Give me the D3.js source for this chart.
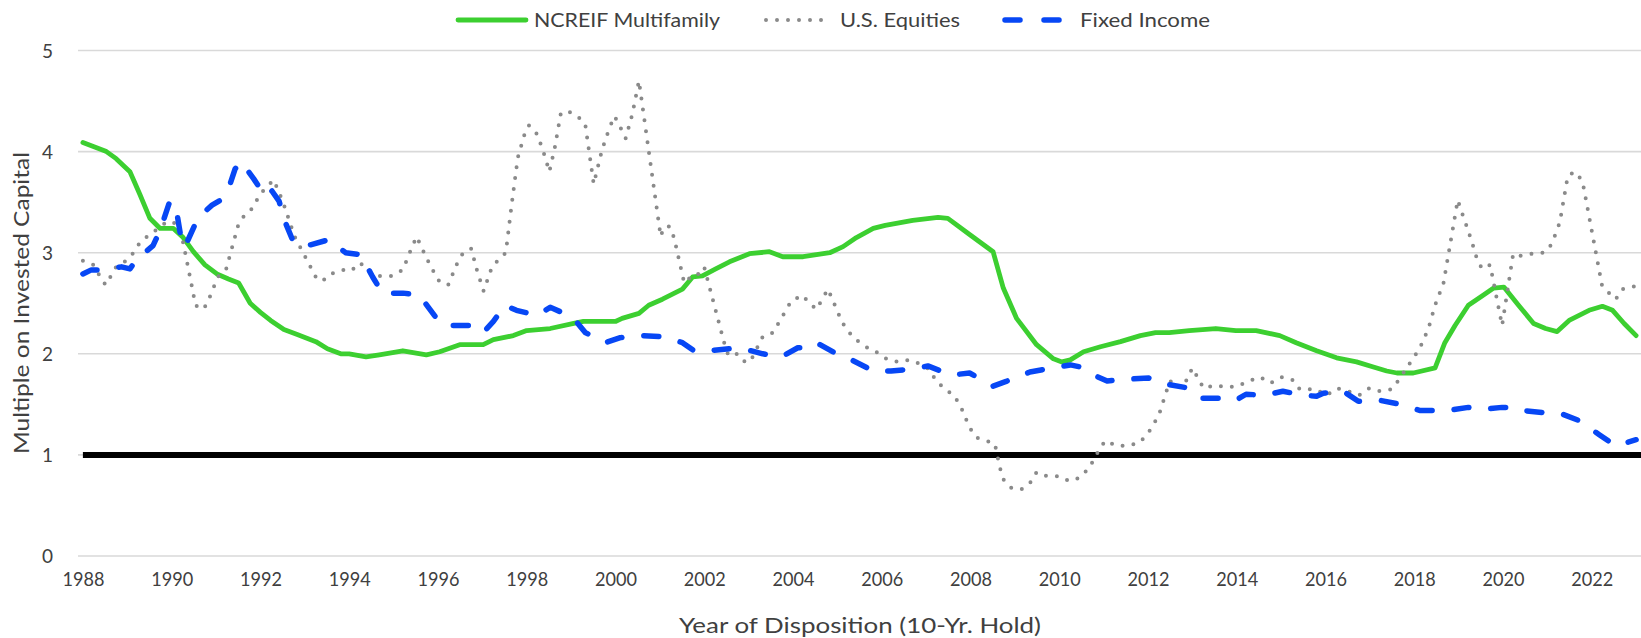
<!DOCTYPE html>
<html>
<head>
<meta charset="utf-8">
<script src="https://cdn.jsdelivr.net/npm/d3@7/dist/d3.min.js"></script>
<style>
  html, body { margin: 0; padding: 0; background: #ffffff; }
  svg { display: block; font-family: Lato, "Open Sans", sans-serif; }
</style>
</head>
<body>
<svg id="chart" width="1641" height="638"></svg>
<script>
// ---------------- data ----------------
const seriesNames = ["NCREIF Multifamily", "U.S. Equities", "Fixed Income"];
const tickYears = [1988,1990,1992,1994,1996,1998,2000,2002,2004,2006,2008,2010,2012,2014,2016,2018,2020,2022];
const yTicks = [0,1,2,3,4,5];
const xTitle = "Year of Disposition (10-Yr. Hold)";
const yTitle = "Multiple on Invested Capital";
const breakEven = 1;

// [year, multiple]
const ncreifMultifamily = [
 [1988.0,4.09],[1988.53,4.00],[1988.75,3.93],[1989.06,3.80],[1989.28,3.58],[1989.51,3.34],[1989.74,3.24],
 [1990.04,3.24],[1990.26,3.15],[1990.49,3.01],[1990.75,2.88],[1991.02,2.79],[1991.28,2.74],[1991.51,2.70],
 [1991.77,2.50],[1992.0,2.41],[1992.23,2.33],[1992.53,2.24],[1992.83,2.19],[1993.25,2.12],[1993.51,2.05],
 [1993.81,2.00],[1994.0,2.00],[1994.38,1.97],[1994.68,1.99],[1995.21,2.03],[1995.74,1.99],[1996.04,2.02],
 [1996.49,2.09],[1997.02,2.09],[1997.25,2.14],[1997.70,2.18],[1998.0,2.23],[1998.53,2.25],[1999.06,2.30],
 [1999.28,2.32],[2000.0,2.32],[2000.15,2.35],[2000.53,2.40],[2000.75,2.48],[2001.06,2.54],[2001.51,2.64],
 [2001.74,2.76],[2001.96,2.77],[2002.26,2.84],[2002.57,2.91],[2003.02,2.99],[2003.47,3.01],[2003.77,2.96],
 [2004.23,2.96],[2004.53,2.98],[2004.83,3.00],[2005.13,3.06],[2005.43,3.15],[2005.81,3.24],[2006.08,3.27],
 [2006.70,3.32],[2007.27,3.35],[2007.49,3.34],[2007.98,3.18],[2008.51,3.01],[2008.74,2.65],[2009.04,2.35],
 [2009.49,2.09],[2009.87,1.95],[2010.06,1.92],[2010.25,1.94],[2010.55,2.02],[2010.93,2.07],[2011.38,2.12],
 [2011.83,2.18],[2012.17,2.21],[2012.48,2.21],[2012.93,2.23],[2013.53,2.25],[2013.98,2.23],[2014.44,2.23],
 [2014.97,2.18],[2015.34,2.11],[2015.80,2.03],[2016.25,1.96],[2016.70,1.92],[2017.08,1.87],[2017.38,1.83],
 [2017.61,1.81],[2017.98,1.81],[2018.47,1.86],[2018.69,2.11],[2018.92,2.28],[2019.22,2.48],[2019.52,2.57],
 [2019.79,2.65],[2020.02,2.66],[2020.35,2.48],[2020.69,2.30],[2020.96,2.25],[2021.22,2.22],[2021.49,2.33],
 [2021.94,2.43],[2022.24,2.47],[2022.47,2.43],[2022.73,2.30],[2023.0,2.18]
];

const usEquities = [
 [1988.0,2.92],[1988.23,2.88],[1988.38,2.77],[1988.51,2.68],[1988.62,2.76],[1988.75,2.86],[1988.94,2.91],
 [1989.12,2.99],[1989.27,3.09],[1989.47,3.17],[1989.70,3.24],[1989.90,3.31],[1990.10,3.29],[1990.26,3.10],
 [1990.49,2.59],[1990.53,2.48],[1990.72,2.44],[1990.83,2.53],[1991.04,2.76],[1991.23,2.84],[1991.51,3.29],
 [1991.66,3.38],[1991.85,3.45],[1991.96,3.56],[1992.14,3.65],[1992.30,3.72],[1992.51,3.50],[1992.77,3.16],
 [1993.02,2.95],[1993.27,2.74],[1993.40,2.72],[1993.58,2.79],[1993.85,2.83],[1994.04,2.82],[1994.24,2.90],
 [1994.45,2.82],[1994.68,2.77],[1994.97,2.77],[1995.21,2.83],[1995.40,3.04],[1995.52,3.16],[1995.75,2.94],
 [1996.0,2.73],[1996.23,2.68],[1996.43,2.89],[1996.57,3.00],[1996.75,3.04],[1996.89,2.81],[1997.03,2.62],
 [1997.21,2.85],[1997.36,2.93],[1997.53,3.00],[1997.66,3.47],[1997.80,3.94],[1997.95,4.17],[1998.05,4.26],
 [1998.24,4.17],[1998.42,3.94],[1998.51,3.80],[1998.63,4.03],[1998.77,4.38],[1998.93,4.40],[1999.15,4.35],
 [1999.32,4.27],[1999.51,3.68],[1999.70,4.02],[1999.87,4.24],[1999.98,4.35],[2000.11,4.24],[2000.23,4.13],
 [2000.38,4.37],[2000.53,4.70],[2001.02,3.16],[2001.09,3.25],[2001.22,3.26],[2001.32,3.15],[2001.55,2.70],
 [2001.70,2.76],[2001.81,2.76],[2002.0,2.86],[2002.48,2.06],[2002.55,1.98],[2002.75,2.00],[2002.94,1.91],
 [2003.08,1.96],[2003.32,2.17],[2003.55,2.21],[2003.96,2.52],[2004.21,2.58],[2004.38,2.50],[2004.53,2.44],
 [2004.79,2.64],[2005.11,2.31],[2005.27,2.21],[2005.45,2.13],[2005.68,2.06],[2005.91,2.01],[2006.11,1.95],
 [2006.36,1.92],[2006.61,1.94],[2006.87,1.90],[2007.06,1.85],[2007.22,1.74],[2007.40,1.66],[2007.62,1.59],
 [2007.77,1.49],[2007.98,1.27],[2008.14,1.17],[2008.36,1.14],[2008.55,1.11],[2008.66,0.88],[2008.74,0.76],
 [2008.93,0.67],[2009.15,0.66],[2009.34,0.72],[2009.49,0.83],[2009.72,0.79],[2009.98,0.79],[2010.23,0.74],
 [2010.44,0.77],[2010.63,0.85],[2010.78,0.95],[2010.91,1.06],[2011.04,1.14],[2011.29,1.09],[2011.55,1.09],
 [2011.80,1.12],[2011.98,1.20],[2012.11,1.29],[2012.25,1.40],[2012.49,1.73],[2012.63,1.70],[2012.78,1.66],
 [2013.0,1.86],[2013.14,1.75],[2013.25,1.66],[2013.51,1.69],[2013.77,1.67],[2014.02,1.68],[2014.27,1.73],
 [2014.53,1.77],[2014.76,1.71],[2015.02,1.77],[2015.27,1.74],[2015.42,1.65],[2015.78,1.65],[2016.02,1.59],
 [2016.26,1.66],[2016.51,1.63],[2016.76,1.59],[2016.99,1.66],[2017.23,1.63],[2017.49,1.65],[2017.65,1.74],
 [2017.80,1.84],[2017.95,1.94],[2018.12,2.05],[2018.32,2.25],[2018.47,2.48],[2018.66,2.70],[2018.98,3.52],
 [2019.11,3.35],[2019.20,3.24],[2019.36,3.02],[2019.43,2.91],[2019.54,2.84],[2019.71,2.88],[2019.98,2.28],
 [2020.23,2.99],[2020.39,2.97],[2020.66,2.99],[2020.92,3.00],[2021.07,3.07],[2021.18,3.18],[2021.28,3.30],
 [2021.46,3.76],[2021.62,3.80],[2021.79,3.71],[2022.23,2.68],[2022.45,2.57],[2022.54,2.54],[2022.69,2.64],
 [2022.85,2.66],[2023.0,2.67]
];

const fixedIncome = [
 [1988.0,2.79],[1988.19,2.83],[1988.38,2.83],[1988.87,2.86],[1989.06,2.84],[1989.21,2.93],[1989.58,3.07],
 [1989.74,3.22],[1989.96,3.51],[1990.10,3.44],[1990.19,3.20],[1990.30,3.06],[1990.60,3.35],[1990.91,3.47],
 [1991.10,3.52],[1991.28,3.63],[1991.43,3.83],[1991.58,3.90],[1991.70,3.82],[1991.85,3.73],[1992.11,3.56],
 [1992.26,3.61],[1992.42,3.51],[1992.57,3.29],[1992.74,3.11],[1992.98,3.06],[1993.55,3.13],[1993.92,3.00],
 [1994.26,2.98],[1994.53,2.76],[1994.75,2.60],[1995.21,2.60],[1995.58,2.58],[1995.92,2.38],[1996.04,2.31],
 [1996.23,2.28],[1996.72,2.28],[1997.02,2.21],[1997.25,2.32],[1997.51,2.48],[1997.77,2.43],[1998.23,2.38],
 [1998.53,2.46],[1998.79,2.41],[1999.06,2.35],[1999.32,2.21],[1999.77,2.11],[2000.11,2.16],[2000.60,2.18],
 [2001.06,2.17],[2001.51,2.11],[2001.77,2.03],[2001.92,2.02],[2002.34,2.04],[2002.79,2.06],[2003.32,2.00],
 [2003.74,1.97],[2004.11,2.06],[2004.30,2.06],[2004.53,2.11],[2004.98,2.00],[2005.32,1.94],[2005.81,1.83],
 [2006.21,1.83],[2006.70,1.85],[2007.04,1.88],[2007.57,1.79],[2007.98,1.81],[2008.51,1.68],[2008.82,1.73],
 [2009.34,1.82],[2009.72,1.85],[2010.25,1.89],[2010.48,1.87],[2010.63,1.82],[2011.08,1.73],[2011.53,1.75],
 [2012.02,1.76],[2012.40,1.70],[2012.93,1.66],[2013.23,1.56],[2013.76,1.56],[2013.98,1.54],[2014.21,1.60],
 [2014.63,1.59],[2015.04,1.63],[2015.49,1.59],[2015.80,1.58],[2015.95,1.61],[2016.40,1.63],[2016.74,1.53],
 [2017.23,1.54],[2017.68,1.50],[2018.12,1.44],[2018.54,1.44],[2018.77,1.44],[2019.22,1.47],[2019.49,1.45],
 [2019.98,1.47],[2020.28,1.47],[2020.43,1.44],[2020.88,1.42],[2021.30,1.41],[2021.71,1.34],[2022.17,1.20],
 [2022.54,1.09],[2022.77,1.12],[2023.0,1.15]
];

// ---------------- drawing ----------------
const svg = d3.select("#chart");
const W = 1641, H = 638;
const x = d3.scaleLinear().domain([1988, 2023.11]).range([82.9, 1641]);
const y = d3.scaleLinear().domain([0, 5]).range([556, 50.5]);
const gridLeft = 78;

// gridlines
svg.append("g").selectAll("line").data(yTicks).join("line")
  .attr("x1", gridLeft).attr("x2", W)
  .attr("y1", d => y(d)).attr("y2", d => y(d))
  .attr("stroke", "#d9d9d9").attr("stroke-width", 1.6);

// y axis labels
const yAxis = svg.append("g").attr("transform", "translate(53,0)")
  .call(d3.axisLeft(y).tickValues(yTicks).tickFormat(d3.format("d")).tickSize(0).tickPadding(0));
yAxis.select(".domain").remove();
yAxis.selectAll("text").attr("font-size", 19).attr("fill", "#404040")
  .attr("font-family", "Lato, 'Open Sans', sans-serif").attr("dy", "0.36em");

// x axis labels
const xAxis = svg.append("g").attr("transform", "translate(0,0)")
  .call(d3.axisBottom(x).tickValues(tickYears).tickFormat(d3.format("d")).tickSize(0).tickPadding(0));
xAxis.select(".domain").remove();
xAxis.selectAll("text").attr("y", 579).attr("dy", "0.36em").attr("font-size", 19).attr("fill", "#404040")
  .attr("font-family", "Lato, 'Open Sans', sans-serif")
  .attr("textLength", 42).attr("lengthAdjust", "spacingAndGlyphs");

// axis titles
svg.append("text").attr("x", 860).attr("y", 625).attr("dy", "0.36em")
  .attr("text-anchor", "middle").attr("font-size", 21).attr("fill", "#404040")
  .attr("textLength", 362).attr("lengthAdjust", "spacingAndGlyphs")
  .text(xTitle);
svg.append("text").attr("transform", "translate(21,303) rotate(-90)").attr("dy", "0.36em")
  .attr("text-anchor", "middle").attr("font-size", 21).attr("fill", "#404040")
  .attr("textLength", 302).attr("lengthAdjust", "spacingAndGlyphs")
  .text(yTitle);

// break-even line at 1.0x
const first = ncreifMultifamily[0][0], last = ncreifMultifamily[ncreifMultifamily.length - 1][0];
svg.append("line")
  .attr("x1", x(first)).attr("x2", W)
  .attr("y1", y(breakEven)).attr("y2", y(breakEven))
  .attr("stroke", "#000").attr("stroke-width", 6);

const line = d3.line().x(d => x(d[0])).y(d => y(d[1]));

const styles = [
  { data: ncreifMultifamily, stroke: "#3ccf30", width: 4.8, dash: null, cap: "round" },
  { data: usEquities, stroke: "#8a8a8a", width: 4, dash: "0 11", cap: "round" },
  { data: fixedIncome, stroke: "#0747f5", width: 5.5, dash: "15 22", cap: "round" }
];

styles.forEach(s => {
  svg.append("path").datum(s.data)
    .attr("d", line)
    .attr("fill", "none")
    .attr("stroke", s.stroke)
    .attr("stroke-width", s.width)
    .attr("stroke-linejoin", "round")
    .attr("stroke-linecap", s.cap)
    .attr("stroke-dasharray", s.dash);
});

// legend
const legendItems = [
  { x1: 458, x2: 526, tx: 534, tl: 186 },
  { x1: 766, x2: 832, tx: 840, tl: 120 },
  { x1: 1005, x2: 1068, tx: 1080, tl: 130 }
];
const lg = svg.append("g");
seriesNames.forEach((name, i) => {
  const L = legendItems[i], s = styles[i];
  lg.append("line").attr("x1", L.x1).attr("x2", L.x2).attr("y1", 20).attr("y2", 20)
    .attr("stroke", s.stroke).attr("stroke-width", s.width)
    .attr("stroke-linecap", s.cap).attr("stroke-dasharray", i === 2 ? "15 24" : s.dash);
  lg.append("text").attr("x", L.tx).attr("y", 20).attr("dy", "0.36em")
    .attr("font-size", 20).attr("fill", "#404040")
    .attr("textLength", L.tl).attr("lengthAdjust", "spacingAndGlyphs")
    .text(name);
});
</script>
</body>
</html>
